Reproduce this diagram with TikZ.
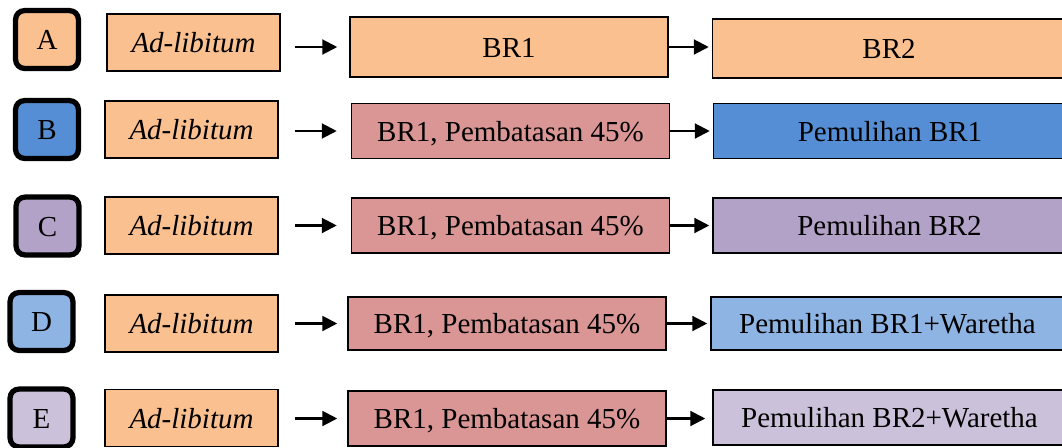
\documentclass[tikz,border=0pt]{standalone}
\usepackage{fontspec}
\setmainfont{Liberation Serif}
\usetikzlibrary{arrows.meta}

\definecolor{peach}{RGB}{250,192,144}
\definecolor{rose}{RGB}{217,150,148}
\definecolor{blueB}{RGB}{85,142,213}
\definecolor{purpleC}{RGB}{179,162,199}
\definecolor{blueD}{RGB}{142,180,227}
\definecolor{lilacE}{RGB}{204,193,218}

\begin{document}
\begin{tikzpicture}[x=0.02cm, y=-0.02cm,
  every node/.style={font=\fontsize{16.5}{19}\selectfont, inner sep=0pt, text height=11.8pt, text depth=0pt},
  grouptag/.style={draw=black, line width=3pt, rounded corners=5pt, minimum width=1.256cm, minimum height=1.156cm},
  phase/.style={draw=black, line width=0.9pt, minimum height=1.1cm},
  adlib/.style={phase, fill=peach, minimum width=3.46cm, minimum height=1.14cm, font=\fontsize{16.5}{19}\selectfont\itshape},
  restrict/.style={phase, minimum width=6.36cm},
  recover/.style={phase, minimum width=7.06cm},
  flow/.style={line width=1.2pt, -{Triangle[length=8.5pt, width=8.5pt]}}]
  \clip (0,0) rectangle (1062,447);

  % Group A
  \node[grouptag, fill=peach] (tagA) at (47,39.5) {A};
  \node[adlib] (adA) at (193.5,42.5) {Ad-libitum};
  \node[restrict, fill=peach, minimum height=1.2cm] (restrictA) at (509,47) {BR1};
  \node[recover, fill=peach, minimum height=1.18cm] (recoverA) at (889,48.5) {BR2};
  \draw[flow, shorten <=0.28cm, shorten >=0.24cm] (adA.east |- restrictA.west) -- (restrictA.west);
  \draw[flow, shorten >=0.06cm] (restrictA.east) -- (restrictA.east -| recoverA.west);

  % Group B
  \node[grouptag, fill=blueB] (tagB) at (47,129.5) {B};
  \node[adlib] (adB) at (191.5,129.5) {Ad-libitum};
  \node[restrict, fill=rose] (restrictB) at (510.5,131) {BR1, Pembatasan 45\%};
  \node[recover, fill=blueB] (recoverB) at (890,131) {Pemulihan BR1};
  \draw[flow, shorten <=0.32cm, shorten >=0.28cm] (adB.east |- restrictB.west) -- (restrictB.west);
  \draw[flow, shorten >=0.06cm] (restrictB.east) -- (recoverB.west);

  % Group C
  \node[grouptag, fill=purpleC] (tagC) at (47.5,226) {C};
  \node[adlib] (adC) at (191.5,225.5) {Ad-libitum};
  \node[restrict, fill=rose] (restrictC) at (510.5,225.5) {BR1, Pembatasan 45\%};
  \node[recover, fill=purpleC] (recoverC) at (889.5,225.5) {Pemulihan BR2};
  \draw[flow, shorten <=0.32cm, shorten >=0.28cm] (adC.east) -- (restrictC.west);
  \draw[flow, shorten >=0.06cm] (restrictC.east) -- (recoverC.west);

  % Group D
  \node[grouptag, fill=blueD] (tagD) at (41.5,321.5) {D};
  \node[adlib] (adD) at (191.5,323.5) {Ad-libitum};
  \node[restrict, fill=rose, minimum height=1.06cm] (restrictD) at (507,323.5) {BR1, Pembatasan 45\%};
  \node[recover, fill=blueD, minimum height=1.06cm] (recoverD) at (887.5,323.5) {Pemulihan BR1+Waretha};
  \draw[flow, shorten <=0.32cm, shorten >=0.2cm] (adD.east) -- (restrictD.west);
  \draw[flow, shorten >=0.06cm] (restrictD.east) -- (recoverD.west);

  % Group E
  \node[grouptag, fill=lilacE] (tagE) at (41.5,418) {E};
  \node[adlib] (adE) at (191.5,418) {Ad-libitum};
  \node[restrict, fill=rose] (restrictE) at (507,418.5) {BR1, Pembatasan 45\%};
  \node[recover, fill=lilacE] (recoverE) at (889.5,417.5) {Pemulihan BR2+Waretha};
  \draw[flow, shorten <=0.32cm, shorten >=0.2cm] (adE.east |- restrictE.west) -- (restrictE.west);
  \draw[flow, shorten >=0.14cm] (restrictE.east) -- (restrictE.east -| recoverE.west);
\end{tikzpicture}
\end{document}
